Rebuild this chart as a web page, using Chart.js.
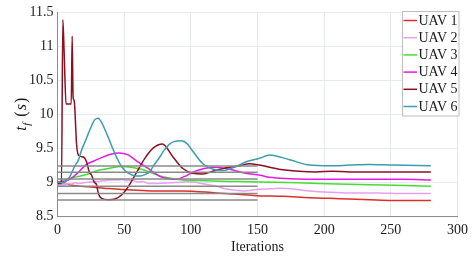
<!DOCTYPE html>
<html>
<head>
<meta charset="utf-8">
<script src="https://cdn.jsdelivr.net/npm/chart.js@4.4.1/dist/chart.umd.min.js"></script>
<style>
html,body{margin:0;padding:0;background:#fff;}
#c{display:block;}
</style>
</head>
<body>
<canvas id="c" width="474" height="262"></canvas>
<script>
// ---- data ----
const seriesNames = ['UAV 1','UAV 2','UAV 3','UAV 4','UAV 5','UAV 6'];

const uav1Iter = [0,3,6,12,23,35,48,60,73,94,119,135,149,169,189,204,219,234,251,280];
const uav1Val  = [9.0,8.98,8.97,8.95,8.93,8.91,8.89,8.88,8.87,8.87,8.84,8.82,8.80,8.79,8.77,8.76,8.75,8.74,8.73,8.73];

const uav2Iter = [0,1,2,3,4,5,6,7,8,10,13,16,20,25,30,35,40,45,48,52,56,60,64,68,75,85,95,101,110,119,126,133,140,149,160,169,180,189,204,220,240,260,280];
const uav2Val  = [8.98,8.94,9.0,8.93,8.98,8.95,8.99,8.96,8.98,8.97,8.99,8.98,8.99,9.0,9.01,9.02,9.03,9.03,9.04,9.02,9.03,9.0,9.01,8.98,8.98,8.99,9.0,9.0,8.97,8.94,8.9,8.88,8.87,8.89,8.9,8.91,8.89,8.87,8.85,8.84,8.84,8.83,8.83];

const uav3Iter = [0,8,15,23,30,38,48,55,63,70,77,84,94,110,130,150,180,210,234,260,280];
const uav3Val  = [9.0,9.05,9.08,9.12,9.17,9.2,9.23,9.22,9.19,9.14,9.09,9.06,9.03,9.02,9.01,9.0,8.99,8.97,8.96,8.95,8.94];

const uav4Iter = [0,5,8,12,16,21,26,33,40,46,53,60,68,73,77,83,89,95,102,110,119,129,141,152,159,174,200,230,260,280];
const uav4Val  = [9.0,9.01,9.03,9.08,9.15,9.25,9.3,9.36,9.41,9.43,9.4,9.3,9.2,9.13,9.08,9.05,9.04,9.08,9.15,9.2,9.22,9.19,9.13,9.1,9.07,9.05,9.04,9.04,9.04,9.03];

const uav5Iter = [0,3,4,5,6.4,10.3,11,11.7,12.5,14.3,15.6,19.3,21.8,23.8,25.6,27.5,29.3,30.5,33,38,43,48,53,59,65.5,71.7,78.7,86.6,94,101.6,109,116.5,126.5,136.5,144,151.5,166,181,194,206,219,234,260,280];
const uav5Val  = [8.98,8.98,11.39,10.9,10.15,10.15,11.15,10.25,10.2,9.56,9.40,9.37,9.3,9.15,9.1,9.0,8.96,8.84,8.76,8.74,8.75,8.81,8.93,9.13,9.35,9.5,9.56,9.37,9.2,9.13,9.12,9.16,9.21,9.24,9.27,9.25,9.19,9.16,9.15,9.16,9.15,9.15,9.15,9.15];

const uav6Iter = [0,3,5.6,9.3,13,15.6,18,20.6,23,25.6,28,30.5,33,38,43,48,53,59,62,65.5,69,72,76.7,80,84,88,93,97,101.6,109,116.5,124,131.5,141.5,151.5,159,174,189,204,219,234,251,280];
const uav6Val  = [9.0,8.99,9.0,9.08,9.24,9.32,9.47,9.59,9.71,9.83,9.92,9.94,9.88,9.66,9.42,9.23,9.13,9.09,9.09,9.11,9.15,9.24,9.37,9.47,9.56,9.60,9.61,9.57,9.45,9.27,9.19,9.17,9.21,9.30,9.35,9.40,9.33,9.25,9.24,9.25,9.26,9.25,9.24];

// reference (grey) levels drawn from iteration 0 to 150
const refLevels = [8.734, 8.83, 8.94, 9.045, 9.146, 9.235];
const refIter = [0, 150];

const xTicks = [0,50,100,150,200,250,300];
const yTicks = [8.5,9,9.5,10,10.5,11,11.5];
const yTickLabels = ['8.5','9','9.5','10','10.5','11','11.5'];

const colors = ['#d9302a','#e8a0ee','#44dd33','#e619e6','#8c0f23','#3a9db0'];

// ---- build datasets ----
const iters = [uav1Iter,uav2Iter,uav3Iter,uav4Iter,uav5Iter,uav6Iter];
const vals  = [uav1Val,uav2Val,uav3Val,uav4Val,uav5Val,uav6Val];
const datasets = [];
refLevels.forEach((lv)=>{
  datasets.push({
    label:'_ref', data: refIter.map(x=>({x:x,y:lv})),
    borderColor:'#8a8a8a', borderWidth:1.5, pointRadius:0, order:0, tension:0
  });
});
seriesNames.forEach((n,i)=>{
  datasets.push({
    label:n, data: iters[i].map((x,k)=>({x:x,y:vals[i][k]})),
    borderColor:colors[i], borderWidth:1.5, pointRadius:0,
    cubicInterpolationMode:'monotone',
    order: 7-i
  });
});

const FONT = "'Liberation Serif', 'DejaVu Serif', serif";

const overlay = {
  id:'overlay',
  afterDraw(chart){
    const ctx = chart.ctx;
    const ca = chart.chartArea;
    // legend box
    const bx = 402.5, by = 11.5, bw = 56.5, bh = 104.5;
    ctx.save();
    ctx.fillStyle = '#fff';
    ctx.fillRect(bx,by,bw,bh);
    ctx.strokeStyle = '#bdbdbd';
    ctx.lineWidth = 1;
    ctx.strokeRect(bx,by,bw,bh);
    ctx.font = "14px " + FONT;
    ctx.textBaseline = 'middle';
    ctx.fillStyle = '#1a1a1a';
    seriesNames.forEach((n,i)=>{
      const y = 20.5 + i*17.2;
      ctx.strokeStyle = colors[i];
      ctx.lineWidth = 1.5;
      ctx.beginPath(); ctx.moveTo(403.5,y); ctx.lineTo(417,y); ctx.stroke();
      ctx.fillText(n, 418.5, y+0.5);
    });
    // y axis title t_f (s)
    ctx.translate(21, (ca.top+ca.bottom)/2);
    ctx.rotate(-Math.PI/2);
    ctx.textBaseline = 'alphabetic';
    ctx.fillStyle = '#1a1a1a';
    const big = "italic 16px " + FONT, small = "italic 11px " + FONT, up = "16px " + FONT;
    const parts = [
      {t:'t', f:big, dy:0, gap:0},
      {t:'f', f:small, dy:3.5, gap:0.5},
      {t:'(', f:up, dy:0, gap:6},
      {t:'s', f:big, dy:0, gap:1},
      {t:')', f:up, dy:0, gap:1}
    ];
    let w = 0;
    parts.forEach(p=>{ctx.font=p.f; p.w=ctx.measureText(p.t).width; w+=p.w+p.gap;});
    let x = -w/2;
    parts.forEach(p=>{x+=p.gap; ctx.font=p.f; ctx.fillText(p.t, x, 5+p.dy); x+=p.w;});
    ctx.restore();
  }
};

new Chart(document.getElementById('c'), {
  type:'line',
  data:{datasets},
  options:{
    responsive:false, animation:false, devicePixelRatio:1,
    layout:{padding:{left:0,right:15,top:11,bottom:0}},
    plugins:{legend:{display:false}, tooltip:{enabled:false}},
    scales:{
      x:{
        type:'linear', min:0, max:300,
        afterBuildTicks(s){ s.ticks = xTicks.map(v=>({value:v})); },
        afterFit(s){ s.height = 46; },
        grid:{color:'#e6eaec', lineWidth:1, drawTicks:false},
        border:{color:'#8c8c8c', width:1},
        ticks:{font:{family:FONT, size:14}, color:'#1a1a1a', padding:6, maxRotation:0},
        title:{display:true, text:'Iterations', font:{family:FONT, size:14}, color:'#1a1a1a', padding:{top:2,bottom:6}}
      },
      y:{
        type:'linear', min:8.5, max:11.5,
        afterBuildTicks(s){ s.ticks = yTicks.map(v=>({value:v})); },
        afterFit(s){ s.width = 57.5; },
        grid:{color:'#e6eaec', lineWidth:1, drawTicks:false},
        border:{color:'#8c8c8c', width:1},
        ticks:{font:{family:FONT, size:14}, color:'#1a1a1a', padding:4,
          callback:(v)=>{ const k = yTicks.indexOf(v); return k>=0 ? yTickLabels[k] : ''; }}
      }
    }
  },
  plugins:[overlay]
});
</script>
</body>
</html>
